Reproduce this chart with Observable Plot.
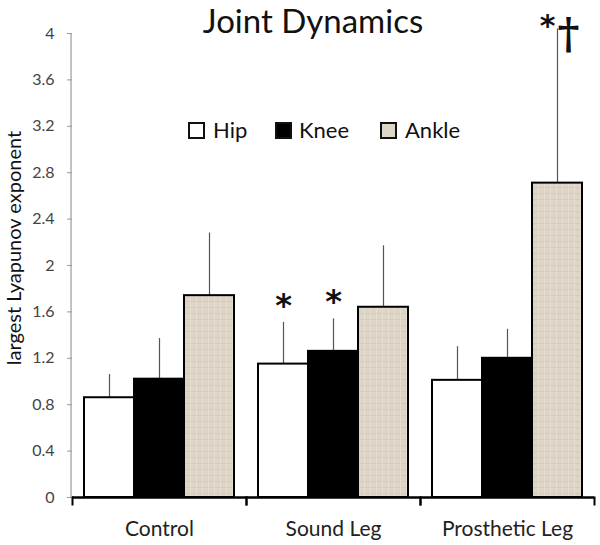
<!DOCTYPE html>
<html>
<head>
<meta charset="utf-8">
<script src="https://cdn.jsdelivr.net/npm/d3@7"></script>
<script src="https://cdn.jsdelivr.net/npm/@observablehq/plot@0.6"></script>
<style>
  body { margin: 0; background: white; font-family: Lato, "Open Sans", sans-serif; }
  #wrap { position: relative; width: 600px; height: 545px; }
  #title { position: absolute; left: 0; width: 626px; top: 0px; text-align: center; font-size: 33px; color: #111; line-height: 40px; }
  #ylabel { position: absolute; left: -137px; top: 236px; width: 300px; line-height: 24px; text-align: center; font-size: 20px; color: #111; transform: rotate(-90deg); }
  .leg { position: absolute; top: 118px; font-size: 22px; line-height: 24px; color: #111; }
  .sw { position: absolute; top: 122px; width: 13px; height: 13px; border: 2px solid #111; }
</style>
</head>
<body>
<div id="wrap">
  <div id="chart"></div>
  <div id="title"></div>
  <div id="ylabel"></div>
  <div id="legend"></div>
</div>
<script>
const titleText = "Joint Dynamics";
const yLabel = "largest Lyapunov exponent";
const groups = ["Control", "Sound Leg", "Prosthetic Leg"];
const joints = ["Hip", "Knee", "Ankle"];
const hipMean   = [0.86, 1.15, 1.01];
const hipSD     = [0.20, 0.36, 0.29];
const kneeMean  = [1.02, 1.26, 1.20];
const kneeSD    = [0.35, 0.28, 0.25];
const ankleMean = [1.74, 1.64, 2.71];
const ankleSD   = [0.54, 0.53, 1.33];
const yTicks = [0, 0.4, 0.8, 1.2, 1.6, 2, 2.4, 2.8, 3.2, 3.6, 4];
// significance markers: * vs control, † vs sound leg
const starMarks = [
  {group: "Sound Leg", joint: "Hip", label: "*"},
  {group: "Sound Leg", joint: "Knee", label: "*"}
];
const starDaggerMarks = [
  {group: "Prosthetic Leg", joint: "Ankle", label: "*†"}
];

const means = [hipMean, kneeMean, ankleMean];
const sds = [hipSD, kneeSD, ankleSD];
const data = groups.flatMap((g, i) => joints.map((j, k) => ({group: g, joint: j, mean: means[k][i], sd: sds[k][i]})));
const lookup = new Map(data.map(d => [d.group + "|" + d.joint, d]));
const withTop = arr => arr.map(m => {
  const d = lookup.get(m.group + "|" + m.joint);
  return {...m, top: d.mean + d.sd};
});
const stars = withTop(starMarks);
const sd2 = withTop(starDaggerMarks);

const fills = ["white", "black", "url(#linen)"];
const font = "Lato, 'Open Sans', sans-serif";

const chart = Plot.plot({
  width: 600,
  height: 545,
  marginTop: 33,
  marginBottom: 48,
  marginLeft: 71,
  marginRight: 6,
  style: {fontFamily: font, background: "white", overflow: "visible"},
  fx: {domain: groups, padding: 0},
  x: {domain: joints, paddingInner: 0, paddingOuter: 0.24, axis: null},
  y: {domain: [0, 4], axis: null},
  color: {type: "ordinal", domain: joints, range: fills},
  marks: [
    Plot.axisY({ticks: yTicks, tickFormat: d => String(d), tickSize: 5, tickPadding: 13, fontSize: 16, color: "#444", stroke: "#999", label: null}),
    Plot.axisFx({anchor: "bottom", tickSize: 0, tickPadding: 24, fontSize: 21, color: "#222", label: null}),
    Plot.ruleX(data, {fx: "group", x: "joint", y1: "mean", y2: d => d.mean + d.sd, stroke: "#555", strokeWidth: 1.2}),
    Plot.barY(data, {fx: "group", x: "joint", y: "mean", fill: "joint", stroke: "black", strokeWidth: 2}),
    Plot.frame({anchor: "left", insetTop: 464, insetBottom: -7, stroke: "black", strokeWidth: 2}),
    Plot.frame({anchor: "right", insetTop: 464, insetBottom: -7, stroke: "black", strokeWidth: 2}),
    Plot.ruleY([0], {stroke: "black", strokeWidth: 2.5}),
    Plot.text(stars, {fx: "group", x: "joint", y: "top", text: "label", dy: -17, fontSize: 32, fontWeight: "bold", fill: "#111", fontFamily: "DejaVu Sans"}),
    Plot.text(sd2, {fx: "group", x: "joint", y: "top", text: d => d.label[0], dx: -10, dy: -2, fontSize: 30, fontWeight: "bold", fill: "#111", fontFamily: "DejaVu Sans"}),
    Plot.text(sd2, {fx: "group", x: "joint", y: "top", text: d => d.label[1], dx: 11, dy: 6, fontSize: 42, fontWeight: "bold", fill: "#111", fontFamily: "DejaVu Serif"})
  ]
});

const svg = d3.select(chart);
const defs = svg.insert("defs", ":first-child");
const pat = defs.append("pattern").attr("id", "linen").attr("patternUnits", "userSpaceOnUse").attr("width", 6).attr("height", 6);
pat.append("rect").attr("width", 6).attr("height", 6).attr("fill", "#ddd5c6");
pat.append("path").attr("d", "M0 1.5H6").attr("stroke", "#d3cab8").attr("stroke-width", 1);
pat.append("path").attr("d", "M3.5 0V6").attr("stroke", "#e4ddd0").attr("stroke-width", 1);
document.getElementById("chart").appendChild(chart);

// y-axis line, from the y scale
const y = chart.scale("y");
svg.append("line").attr("x1", 71).attr("x2", 71).attr("y1", y.apply(4)).attr("y2", y.apply(0)).attr("stroke", "#999").attr("stroke-width", 1.2);

// legend
const legend = document.getElementById("legend");
const legPos = [[188, 213], [275, 299], [380, 405]];
const swFills = ["white", "black", "#ddd5c6"];
joints.forEach((j, i) => {
  const sw = document.createElement("div");
  sw.className = "sw";
  sw.style.left = legPos[i][0] + "px";
  sw.style.background = swFills[i];
  legend.appendChild(sw);
  const t = document.createElement("div");
  t.className = "leg";
  t.style.left = legPos[i][1] + "px";
  t.textContent = j;
  legend.appendChild(t);
});
document.getElementById("title").textContent = titleText;
document.getElementById("ylabel").textContent = yLabel;
</script>
</body>
</html>
